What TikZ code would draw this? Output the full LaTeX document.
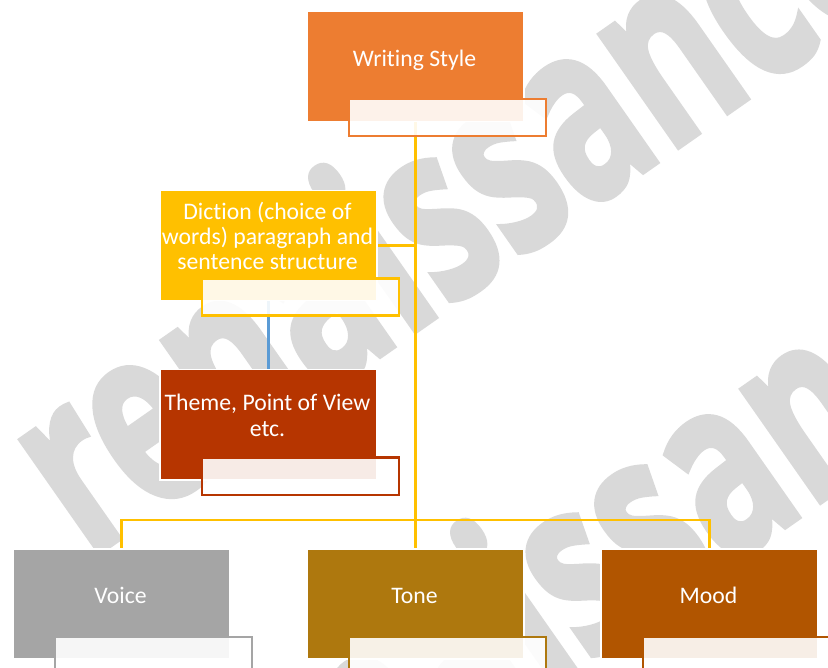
\documentclass[tikz,border=0pt]{standalone}
\usepackage{fontspec}
\setmainfont{Carlito}[Ligatures=CommonOff]
\newfontfamily\wmfont{Open Sans}[BoldFeatures={FakeBold=2.5}]
\usetikzlibrary{positioning}
\definecolor{cWS}{HTML}{ED7D31}
\definecolor{cDic}{HTML}{FFC000}
\definecolor{cTh}{HTML}{B63500}
\definecolor{cVo}{HTML}{A5A5A5}
\definecolor{cTo}{HTML}{AE780E}
\definecolor{cMo}{HTML}{B15500}
\definecolor{cConn}{HTML}{FFC000}
\definecolor{cBlue}{HTML}{5B9BD5}
\definecolor{wmgray}{HTML}{D9D9D9}
\begin{document}
\begin{tikzpicture}[x=1pt,y=-1pt,
  mainbox/.style={fill=#1, draw=white, line width=1.5pt, inner sep=0pt,
    minimum width=217pt, minimum height=110pt, anchor=north west},
  labelbox/.style={draw=#1, fill=white, fill opacity=0.9, line width=2.2pt,
    inner sep=0pt, minimum width=197pt, minimum height=37pt, anchor=north west},
  lbl/.style={text=white, font=\fontsize{23.7}{25.4}\selectfont, align=center,
    inner sep=0pt, anchor=base},
  conn/.style={draw=cConn, line width=2.5pt},
  bconn/.style={draw=cBlue, line width=2.5pt},
  wm/.style={text=wmgray, font=\wmfont\bfseries\fontsize{250}{250}\selectfont,
    inner sep=0pt, anchor=base west, rotate=35},
]
\useasboundingbox (0,0) rectangle (828,668);
\clip (0,0) rectangle (828,668);
% watermark
\node[wm] (wm1) at (88,560) {\scalebox{0.675}[1]{renaissance}};
\node[wm] (wm2) at (230,915) {\scalebox{0.675}[1]{renaissance}};
% coordinates for connector layout
\coordinate (hub) at (414.5,520);
% main boxes (invisible copies first, to route connectors beneath)
\path (306,11) node[mainbox=cWS, fill opacity=0, draw opacity=0] (ws0) {};
\path (159,190) node[mainbox=cDic, fill opacity=0, draw opacity=0] (dic0) {};
\path (159,369) node[mainbox=cTh, fill opacity=0, draw opacity=0] (th0) {};
\path (12,548) node[mainbox=cVo, fill opacity=0, draw opacity=0] (vo0) {};
\path (306,548) node[mainbox=cTo, fill opacity=0, draw opacity=0] (to0) {};
\path (600,548) node[mainbox=cMo, fill opacity=0, draw opacity=0] (mo0) {};
% connectors
\draw[conn] (ws0.south) -- (to0.north);
\draw[conn] (dic0.east) -- (dic0.east -| ws0.south);
\draw[conn] (vo0.north) |- (hub) -| (mo0.north);
\draw[bconn] (dic0.south) -- (th0.north);
% main boxes
\node[mainbox=cWS] (ws) at (306,11) {};
\node[mainbox=cDic] (dic) at (159,190) {};
\node[mainbox=cTh] (th) at (159,369) {};
\node[mainbox=cVo] (vo) at (12,548) {};
\node[mainbox=cTo] (to) at (306,548) {};
\node[mainbox=cMo] (mo) at (600,548) {};
% label boxes
\node[labelbox=cWS] (wsl) at (348,98) {};
\node[labelbox=cDic] (dicl) at (201,277.5) {};
\node[labelbox=cTh] (thl) at (201,456.5) {};
\node[labelbox=cVo] (vol) at (54,635.5) {};
\node[labelbox=cTo] (tol) at (348,635.5) {};
\node[labelbox=cMo] (mol) at (642,635.5) {};
% texts
\node[lbl] (wst) at (414.5,67) {Writing Style};
\node[lbl] (dict) at (267.5,270) {Diction (choice of\\words) paragraph and\\sentence structure};
\node[lbl] (tht) at (267.5,436) {Theme, Point of View\\etc.};
\node[lbl] (vot) at (120.5,603) {Voice};
\node[lbl] (tot) at (414.5,603) {Tone};
\node[lbl] (mot) at (708.5,603) {Mood};
\end{tikzpicture}
\end{document}
